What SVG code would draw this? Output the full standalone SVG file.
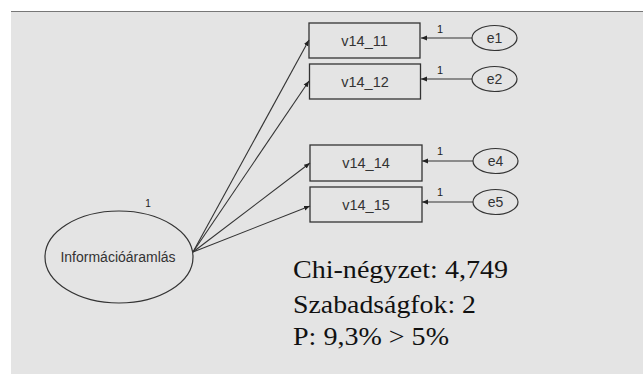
<svg xmlns="http://www.w3.org/2000/svg" width="643" height="374" viewBox="0 0 643 374">
<defs>
<marker id="ah" viewBox="0 0 10 10" refX="10" refY="5" markerWidth="6" markerHeight="6" markerUnits="userSpaceOnUse" orient="auto">
<path d="M0,1 L10,5 L0,9 z" fill="#222"/>
</marker>
</defs>
<style>
.box{fill:none;stroke:#333;stroke-width:1.3}
.ell{fill:none;stroke:#333;stroke-width:1.2}
.lbl{font-family:"Liberation Sans",Arial,sans-serif;font-size:14.5px;fill:#333;text-anchor:middle;dominant-baseline:central}
.one{font-family:"Liberation Sans",Arial,sans-serif;font-size:11px;fill:#222;text-anchor:middle}
.con{stroke:#333;stroke-width:1.1;fill:none;marker-end:url(#ah)}
.stat{font-family:"Liberation Serif","Times New Roman",serif;font-size:26px;fill:#111}
</style>
<rect x="0" y="0" width="643" height="374" fill="#ffffff"/>
<rect x="11" y="11" width="632" height="363" fill="#e4e4e4"/>
<line x1="11" y1="11.5" x2="643" y2="11.5" stroke="#777" stroke-width="1"/>
<g id="connectors">
<line class="con" x1="193" y1="252" x2="309" y2="40"/>
<line class="con" x1="193" y1="252" x2="309" y2="81"/>
<line class="con" x1="193" y1="252" x2="310" y2="163"/>
<line class="con" x1="193" y1="252" x2="310" y2="206"/>
<line class="con" x1="472" y1="38" x2="421" y2="38"/>
<line class="con" x1="472" y1="79" x2="421" y2="79"/>
<line class="con" x1="473" y1="161" x2="422" y2="161"/>
<line class="con" x1="473" y1="202" x2="422" y2="202"/>
</g>
<g id="v14_11"><rect class="box" x="309" y="23" width="111" height="35"/><text class="lbl" x="364.5" y="40.5">v14_11</text><text class="one" x="440" y="33">1</text></g>
<g id="v14_12"><rect class="box" x="309.5" y="64" width="111" height="35"/><text class="lbl" x="365" y="81.5">v14_12</text><text class="one" x="440" y="74">1</text></g>
<g id="v14_14"><rect class="box" x="310" y="145" width="112" height="36"/><text class="lbl" x="366" y="163">v14_14</text><text class="one" x="440" y="155">1</text></g>
<g id="v14_15"><rect class="box" x="310" y="187" width="112" height="35"/><text class="lbl" x="366" y="204.5">v14_15</text><text class="one" x="440" y="196">1</text></g>
<g id="e1"><ellipse class="ell" cx="494.5" cy="38" rx="22.5" ry="12.5"/><text class="lbl" x="494.5" y="38" style="font-size:14px">e1</text></g>
<g id="e2"><ellipse class="ell" cx="494.5" cy="79" rx="22.5" ry="12.5"/><text class="lbl" x="494.5" y="79" style="font-size:14px">e2</text></g>
<g id="e4"><ellipse class="ell" cx="495.5" cy="161" rx="22.5" ry="12.5"/><text class="lbl" x="495.5" y="161" style="font-size:14px">e4</text></g>
<g id="e5"><ellipse class="ell" cx="495.5" cy="202" rx="22.5" ry="12.5"/><text class="lbl" x="495.5" y="202" style="font-size:14px">e5</text></g>
<g id="informacioaramlas"><ellipse class="ell" cx="119" cy="257" rx="74" ry="46"/><text class="lbl" x="118" y="257" style="font-size:14px">Információáramlás</text><text class="one" x="148" y="207" style="font-size:10px">1</text></g>
<g id="stats">
<text class="stat" x="293" y="278" textLength="215" lengthAdjust="spacingAndGlyphs">Chi-négyzet: 4,749</text>
<text class="stat" x="293" y="313" textLength="183" lengthAdjust="spacingAndGlyphs">Szabadságfok: 2</text>
<text class="stat" x="293" y="345" textLength="156" lengthAdjust="spacingAndGlyphs">P: 9,3% &gt; 5%</text>
</g>
</svg>
